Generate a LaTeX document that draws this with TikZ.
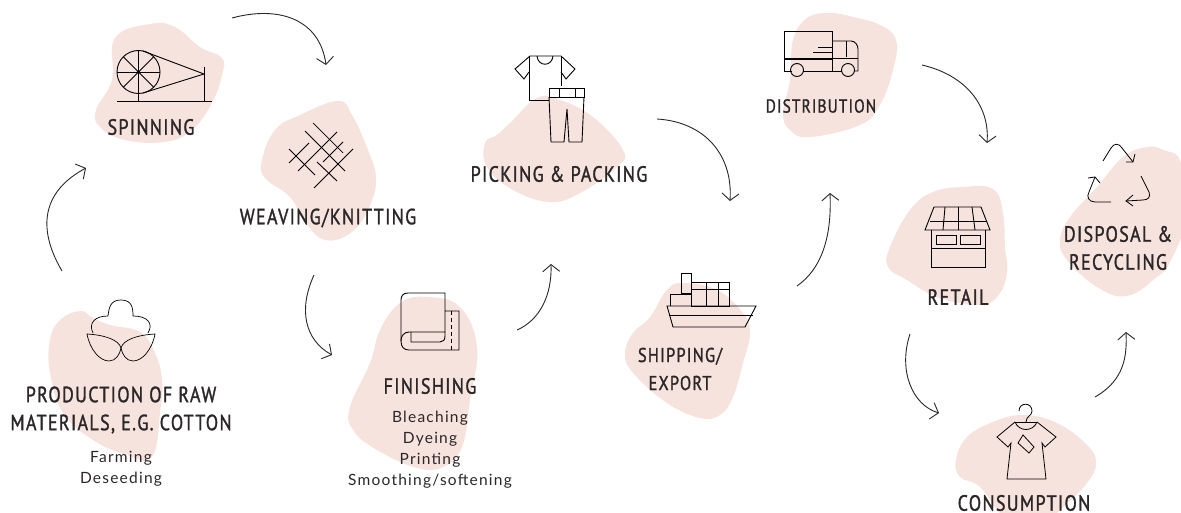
\documentclass[tikz,border=0pt]{standalone}
\usepackage{fontspec}
\usetikzlibrary{arrows.meta}
\newfontfamily\headfont[LetterSpace=6,FakeStretch=0.82,FakeBold=1.3]{PT Sans}
\newfontfamily\subfont[LetterSpace=8]{Lato}
\definecolor{blobpink}{HTML}{F6E3DE}
\definecolor{inkgrey}{HTML}{2B2728}
\tikzset{
    blob/.style={fill=blobpink,draw=none},
    icon/.style={draw=black,line width=0.9pt,line join=miter},
    heading/.style={inner sep=0pt,align=center,text=inkgrey,font=\headfont\fontsize{22}{28}\selectfont},
    subheading/.style={inner sep=0pt,align=center,text=inkgrey,font=\subfont\fontsize{15.5}{21}\selectfont},
    flow/.style={draw=inkgrey,line width=0.9pt,-{Straight Barb[length=7pt,width=17pt]}}
}
\begin{document}
\begin{tikzpicture}[x=1pt,y=-1pt]
    \useasboundingbox (0,0) rectangle (1181,513);
    % Background blobs
    \fill[blob] plot[smooth cycle,tension=0.7] coordinates {(115,38) (150,24) (175,27) (200,47) (222,58) (222,75) (212,103) (192,130) (165,142) (125,140) (100,127) (96,110) (112,80)};
    \fill[blob] plot[smooth cycle,tension=0.7] coordinates {(338,101) (352,115) (368,150) (376,178) (370,205) (352,232) (325,240) (305,222) (290,197) (265,178) (262,160) (275,130) (300,115)};
    \fill[blob] plot[smooth cycle,tension=0.7] coordinates {(80,311) (93,318) (110,325) (140,332) (155,353) (162,380) (160,413) (152,457) (127,455) (93,440) (63,413) (50,373) (50,340) (60,320)};
    \fill[blob] plot[smooth cycle,tension=0.7] coordinates {(427,297) (460,307) (477,347) (470,400) (462,447) (443,467) (417,468) (377,450) (353,430) (350,407) (370,363) (380,330) (400,303)};
    \fill[blob] plot[smooth cycle,tension=0.7] coordinates {(537,98) (560,100) (593,117) (623,150) (617,167) (580,193) (550,202) (513,190) (487,167) (485,143) (497,135) (510,123)};
    \fill[blob] plot[smooth cycle,tension=0.7] coordinates {(830,13) (853,17) (880,25) (896,40) (893,70) (880,105) (860,125) (810,137) (790,130) (783,113) (790,80) (793,40) (807,18)};
    \fill[blob] plot[smooth cycle,tension=0.7] coordinates {(683,283) (717,290) (743,313) (750,333) (743,363) (733,397) (720,415) (700,418) (667,403) (633,373) (625,353) (633,333) (650,317) (667,290)};
    \fill[blob] plot[smooth cycle,tension=0.7] coordinates {(993,189) (1003,213) (1005,247) (1007,273) (997,297) (977,305) (937,297) (907,280) (888,267) (890,247) (910,210) (933,192) (963,187)};
    \fill[blob] plot[smooth cycle,tension=0.7] coordinates {(1147,147) (1163,150) (1181,163) (1185,220) (1170,262) (1157,277) (1127,296) (1097,287) (1067,260) (1060,240) (1070,217) (1097,187) (1123,157)};
    \fill[blob] plot[smooth cycle,tension=0.7] coordinates {(1023,415) (1057,423) (1087,445) (1096,463) (1087,483) (1063,507) (1047,518) (1007,518) (980,487) (960,477) (956,460) (967,437) (993,422)};

    % Spinning wheel
    \draw[icon] (138.5,72) circle[radius=21.5];
    \foreach \ang in {45,135} {
        \draw[icon] (138.5,72) ++(\ang:21.5) -- ++(\ang:-43);
    }
    \draw[icon] (117,72) -- (160,72);
    \draw[icon] (138.5,50) -- (138.5,101);
    \draw[icon] (117,101) -- (212,101);
    \draw[icon] (204,67) -- (204,101);
    \draw[icon] (143,51) -- (204,74) -- (143,93);
    \fill (138.5,72) circle[radius=1.5];

    % Woven threads
    \draw[icon,line width=0.7pt] (313,123) -- (343,153);
    \foreach \xa/\ya/\xb/\yb in {305/131/345/171,289/149/315/175,317/162/337/181,337/132/298/171,309/143/289/163,343/142/323/162,353/149/314/188} {
        \draw[icon] (\xa,\ya) -- (\xb,\yb);
    }

    % Cotton
    \draw[icon,line width=0.7pt] (93,333) .. controls (88,323) and (95,316) .. (108,316) .. controls (109,308) and (110,300) .. (121,300) .. controls (132,300) and (133,308) .. (133,316) .. controls (147,316) and (154,323) .. (148,333);
    \draw[icon,line width=0.7pt] (87,334) .. controls (105,335) and (119,340) .. (121,348) .. controls (120,354) and (116,361) .. (109,361) .. controls (100,361) and (90,350) .. (87,334) -- cycle;
    \draw[icon,line width=0.7pt] (155,334) .. controls (137,335) and (123,340) .. (121,348) .. controls (122,354) and (126,361) .. (133,361) .. controls (142,361) and (152,350) .. (155,334) -- cycle;

    % Fabric roll
    \draw[icon] (445,332) -- (445,293) -- (408,293) .. controls (403,293) and (401,296) .. (401,300) -- (401,341) .. controls (401,347) and (404,350) .. (409,350) -- (459,350) -- (459,311) -- (445,311);
    \draw[icon] (401,341) .. controls (401,336) and (404,332) .. (409,332) -- (445,332) -- (445,336) .. controls (445,340) and (443,342) .. (440,342) -- (411,342) -- (411,332);
    \draw[icon,dashed,dash pattern=on 4pt off 3pt] (451,311) -- (451,350);

    % Shirt and trousers
    \draw[icon] (529,56) -- (529,100) -- (549,100);
    \draw[icon] (561,56) -- (561,86);
    \draw[icon] (529,72) -- (524,79) -- (515,69) -- (530,56) -- (561,56) -- (575,69) -- (566,79) -- (561,72);
    \draw[icon] (537,56) .. controls (538,67) and (552,67) .. (553,56);
    \draw[icon] (549,88) rectangle (584,97);
    \foreach \xa in {559,575} {
        \draw[icon] (\xa,88) -- (\xa,97);
    }
    \draw[icon] (549,97) -- (551,142) -- (564,142) -- (567,109) -- (569,142) -- (582,142) -- (584,97);

    % Truck
    \draw[icon] (792,71) -- (784,71) -- (784,31) -- (832,31) -- (832,71);
    \draw[icon,line width=1.3pt] (784,59) -- (832,59);
    \draw[icon] (832,58) -- (858,58);
    \draw[icon] (818,47) -- (832,47);
    \draw[icon] (813,52) -- (832,52);
    \draw[icon] (832,41) -- (851,41) .. controls (855,41) and (858,45) .. (858,49) -- (858,71) -- (854,71);
    \draw[icon] (846,41) -- (846,57);
    \draw[icon] (803,71) -- (842,71);
    \foreach \xa in {797,848} {
        \draw[icon] (\xa,70) circle[radius=6.5];
    }

    % Ship
    \draw[icon] (667,306) -- (756,306) -- (745,327) -- (673,327) -- cycle;
    \draw[icon] (669,315) -- (753,315);
    \draw[icon] (681,273) rectangle (691,293);
    \draw[icon] (670,306) -- (670,294) -- (691,294);
    \draw[icon] (691,282) rectangle (729,306);
    \draw[icon] (691,306) -- (691,293);
    \foreach \xa in {706,718} {
        \draw[icon] (\xa,282) -- (\xa,306);
    }
    \draw[icon] (691,289) -- (729,289);

    % Shop
    \draw[icon] (925,230) -- (934,207) -- (981,207) -- (990,230) -- cycle;
    \draw[icon] (930,221) -- (986,221);
    \foreach \xa/\xb in {945/943,958/958,972/975} {
        \draw[icon] (\xa,207) -- (\xb,230);
    }
    \draw[icon] (931,230) -- (931,267) -- (985,267) -- (985,230);
    \draw[icon] (931,248) -- (985,248);
    \draw[icon] (936,235) rectangle (956,244);
    \draw[icon] (960,235) rectangle (980,244);

    % Recycling arrows
    \draw[icon,line width=0.8pt] (1103,161) -- (1111,148) .. controls (1114,143) and (1119,143) .. (1122,148) -- (1133,162);
    \draw[icon,line width=0.8pt] (1126,162) -- (1133,162) -- (1135,154);
    \draw[icon,line width=0.8pt] (1141,176) -- (1149,192) .. controls (1151,197) and (1148,200) .. (1143,200) -- (1126,201);
    \draw[icon,line width=0.8pt] (1133,195) -- (1126,201) -- (1133,206);
    \draw[icon,line width=0.8pt] (1111,202) -- (1095,202) .. controls (1089,202) and (1086,197) .. (1089,192) -- (1095,177);
    \draw[icon,line width=0.8pt] (1088,178) -- (1095,177) -- (1100,183);

    % Hanging shirt
    \draw[icon,line width=0.8pt] (1019,411) .. controls (1019,402) and (1032,402) .. (1032,411) .. controls (1032,416) and (1026,416) .. (1026,422);
    \draw[icon,line width=0.8pt] (1015,422) -- (1037,422);
    \draw[icon,line width=0.8pt] (1015,422) .. controls (1019,432) and (1033,432) .. (1037,422);
    \draw[icon,line width=0.8pt] (1015,422) -- (997,437) -- (1008,447) -- (1011,443) -- (1007,479) -- (1046,479) -- (1042,443) -- (1045,447) -- (1056,437) -- (1037,422);
    \draw[icon,line width=0.8pt] (1023,435) -- (1034,447) -- (1029,453) -- (1018,443) -- cycle;

    % Labels
    \node[heading] (spinning) at (151,127) {SPINNING};
    \node[heading] (weaving) at (328,218) {WEAVING/KNITTING};
    \node[heading] (rawmaterials) at (121,410) {PRODUCTION OF RAW\\MATERIALS, E.G. COTTON};
    \node[subheading] (farming) at (121,469) {Farming\\Deseeding};
    \node[heading] (finishing) at (430,386) {FINISHING};
    \node[subheading] (treatments) at (430,449.5) {Bleaching\\Dyeing\\Printing\\Smoothing/softening};
    \node[heading] (picking) at (559,174) {PICKING \& PACKING};
    \node[heading,font=\headfont\fontsize{20}{28}\selectfont] (shipping) at (680,369) {SHIPPING/\\EXPORT};
    \node[heading,font=\headfont\fontsize{18.8}{24}\selectfont] (distribution) at (821,106) {DISTRIBUTION};
    \node[heading] (retail) at (958,297) {RETAIL};
    \node[heading] (disposal) at (1118,248) {DISPOSAL \&\\RECYCLING};
    \node[heading] (consumption) at (1024,503) {CONSUMPTION};

    % Flow arrows, free ends
    \coordinate (rawout) at (62,271);
    \coordinate (spinin) at (86,168);
    \coordinate (spinout) at (232,18);
    \coordinate (weavein) at (326,65);
    \coordinate (weaveout) at (314,275);
    \coordinate (finishin) at (332,355);
    \coordinate (finishout) at (517,330);
    \coordinate (pickin) at (551,264);
    \coordinate (pickout) at (657,119);
    \coordinate (shipin) at (730,201);
    \coordinate (shipout) at (797,286);
    \coordinate (distin) at (830,193);
    \coordinate (distout) at (922,65);
    \coordinate (retailin) at (987,143);
    \coordinate (retailout) at (910,334);
    \coordinate (consumein) at (939,413);
    \coordinate (consumeout) at (1095,397);
    \coordinate (disposein) at (1126,332);

    \draw[flow] (rawout) .. controls (35,225) and (45,190) .. (spinin);
    \draw[flow] (spinout) .. controls (280,5) and (320,20) .. (weavein);
    \draw[flow] (weaveout) .. controls (298,310) and (305,340) .. (finishin);
    \draw[flow] (finishout) .. controls (540,320) and (552,295) .. (pickin);
    \draw[flow] (pickout) .. controls (705,122) and (733,155) .. (shipin);
    \draw[flow] (shipout) .. controls (820,270) and (832,240) .. (distin);
    \draw[flow] (distout) .. controls (965,75) and (990,105) .. (retailin);
    \draw[flow] (retailout) .. controls (898,370) and (912,405) .. (consumein);
    \draw[flow] (consumeout) .. controls (1125,380) and (1127,355) .. (disposein);
\end{tikzpicture}
\end{document}
